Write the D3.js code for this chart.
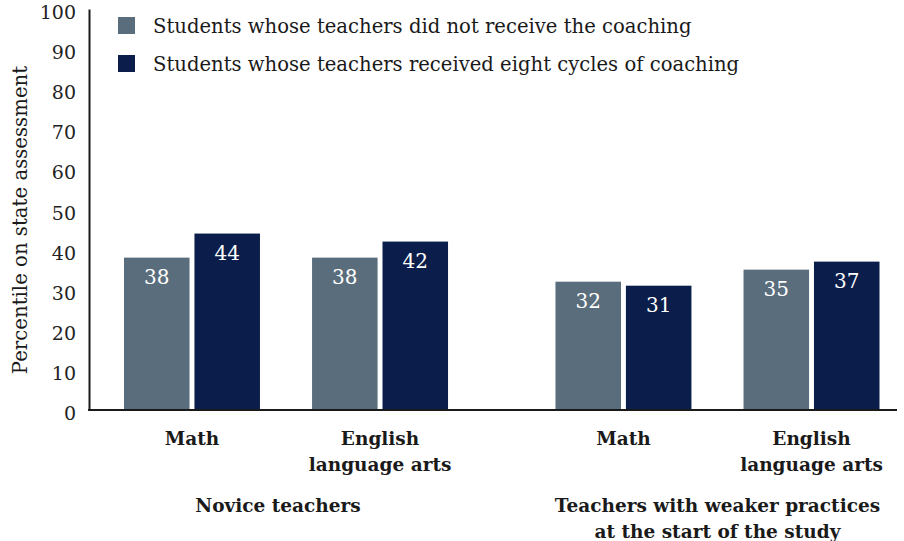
<!DOCTYPE html>
<html>
<head>
<meta charset="utf-8">
<script src="https://cdn.jsdelivr.net/npm/d3@7"></script>
<style>
  html, body { margin: 0; padding: 0; background: #fff; }
  svg { display: block; font-family: "DejaVu Serif", serif; }
</style>
</head>
<body>
<svg id="chart" width="904" height="541"></svg>
<script>
const groups = ["Novice teachers", "Teachers with weaker practices at the start of the study"];
const groupLines = [["Novice teachers"], ["Teachers with weaker practices", "at the start of the study"]];
const subjects = ["Math", "English language arts"];
const subjectLines = [["Math"], ["English", "language arts"]];
const seriesNames = ["Students whose teachers did not receive the coaching",
                     "Students whose teachers received eight cycles of coaching"];
const noCoaching = [38, 38, 32, 35];
const coaching = [44, 42, 31, 37];
const yTicks = [0, 10, 20, 30, 40, 50, 60, 70, 80, 90, 100];
const yTitle = "Percentile on state assessment";
const colors = ["#5a6d7c", "#0b1d4a"];

const rows = [];
groups.forEach((g, gi) => subjects.forEach((s, si) => {
  const idx = gi * 2 + si;
  rows.push({ group: g, subject: s, values: [noCoaching[idx], coaching[idx]] });
}));

const svg = d3.select("#chart");

const y = d3.scaleLinear().domain([0, 100]).range([410, 9]);
const x0 = d3.scaleBand().domain(groups).range([124, 879.5]).paddingInner(0.249).paddingOuter(0);
const x1 = d3.scaleBand().domain(subjects).range([0, x0.bandwidth()]).paddingInner(0.277).paddingOuter(0);
const x2 = d3.scaleBand().domain([0, 1]).range([0, x1.bandwidth()]).paddingInner(0.07).paddingOuter(0);

// Y axis
const yAxis = d3.axisLeft(y).tickValues(yTicks).tickSize(0).tickPadding(13);
const gy = svg.append("g").attr("transform", "translate(89,0)").call(yAxis);
gy.select(".domain").attr("stroke", "#1a1a1a").attr("stroke-width", 2);
gy.selectAll("text")
  .attr("font-family", "DejaVu Serif, serif")
  .attr("font-size", 19)
  .attr("fill", "#222")
  .attr("dy", "0.5em");

// Bars
const gGroups = svg.append("g").selectAll("g").data(rows).join("g")
  .attr("transform", d => `translate(${x0(d.group) + x1(d.subject)},0)`);

gGroups.selectAll("rect").data(d => d.values.map((v, i) => ({ v, i }))).join("rect")
  .attr("x", d => x2(d.i))
  .attr("width", x2.bandwidth())
  .attr("y", d => y(d.v))
  .attr("height", d => y(0) - y(d.v))
  .attr("fill", d => colors[d.i]);

gGroups.selectAll("text.val").data(d => d.values.map((v, i) => ({ v, i }))).join("text")
  .attr("class", "val")
  .attr("x", d => x2(d.i) + x2.bandwidth() / 2)
  .attr("y", d => y(d.v) + 26)
  .attr("text-anchor", "middle")
  .attr("font-size", 20)
  .attr("fill", "#fff")
  .text(d => d.v);

// Baseline
svg.append("line")
  .attr("x1", 88).attr("x2", 897)
  .attr("y1", y(0)).attr("y2", y(0))
  .attr("stroke", "#1a1a1a").attr("stroke-width", 2);

// Subject labels
rows.forEach((r, ri) => {
  const cx = x0(r.group) + x1(r.subject) + x1.bandwidth() / 2;
  const lines = subjectLines[subjects.indexOf(r.subject)];
  const t = svg.append("text")
    .attr("x", cx).attr("y", 445)
    .attr("text-anchor", "middle")
    .attr("font-size", 18.5).attr("font-weight", "bold").attr("fill", "#1a1a1a");
  lines.forEach((l, li) => t.append("tspan").attr("x", cx).attr("dy", li === 0 ? 0 : 26).text(l));
});

// Group labels
groups.forEach((g, gi) => {
  const cx = x0(g) + x0.bandwidth() / 2 - (gi === 0 ? 8 : 0);
  const t = svg.append("text")
    .attr("x", cx).attr("y", 512)
    .attr("text-anchor", "middle")
    .attr("font-size", 18.5).attr("font-weight", "bold").attr("fill", "#1a1a1a");
  groupLines[gi].forEach((l, li) => t.append("tspan").attr("x", cx).attr("dy", li === 0 ? 0 : 26).text(l));
});

// Y title
svg.append("text")
  .attr("transform", "translate(27,220) rotate(-90)")
  .attr("text-anchor", "middle")
  .attr("font-size", 19.7).attr("fill", "#1a1a1a")
  .text(yTitle);

// Legend
const leg = svg.append("g").selectAll("g").data(seriesNames).join("g")
  .attr("transform", (d, i) => `translate(118,${17 + i * 38})`);
leg.append("rect").attr("width", 17).attr("height", 17).attr("fill", (d, i) => colors[i]);
leg.append("text").attr("x", 35).attr("y", 15.5)
  .attr("font-size", 19.6).attr("fill", "#1a1a1a").text(d => d);
</script>
</body>
</html>
